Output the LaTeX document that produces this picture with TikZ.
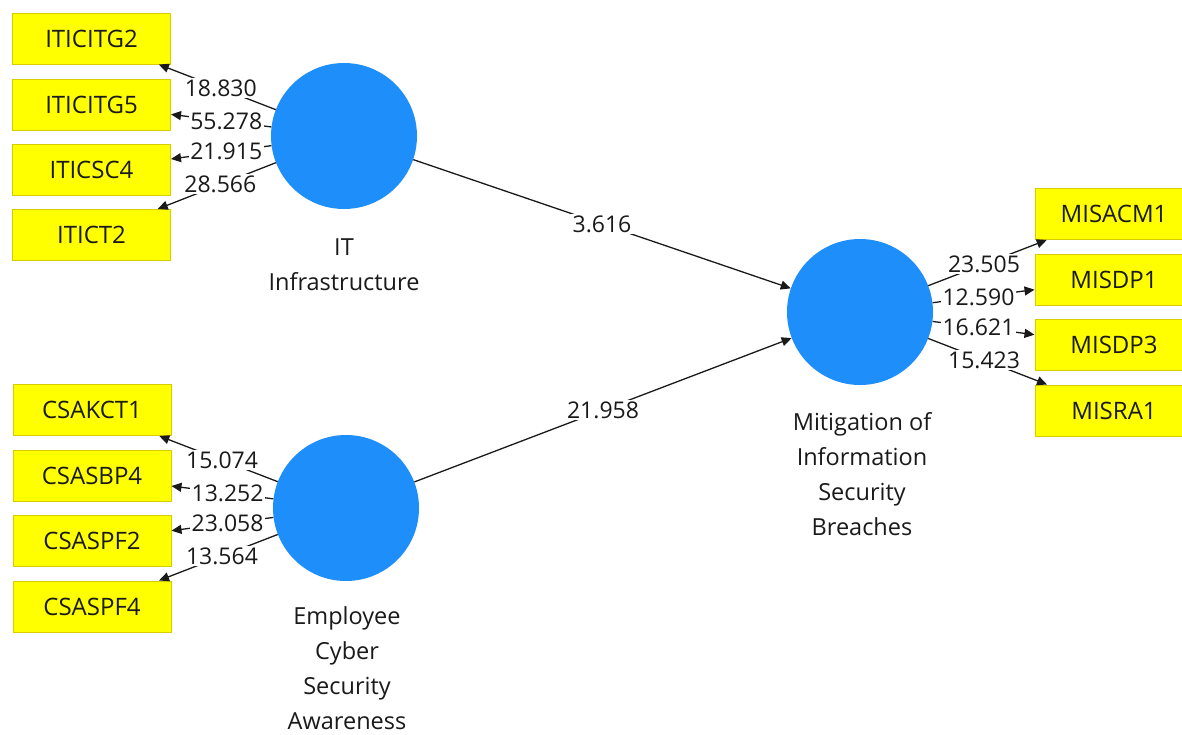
\documentclass[tikz,border=0pt]{standalone}
\usepackage{fontspec}
\setmainfont{Open Sans}
\usetikzlibrary{arrows.meta}
\definecolor{boxyellow}{HTML}{FFFF00}
\definecolor{boxedge}{HTML}{D6CC00}
\definecolor{lvblue}{HTML}{1E8FFA}
\definecolor{ink}{HTML}{1A1A1A}
\tikzset{
  ind/.style={draw=boxedge, line width=1pt, fill=boxyellow, minimum width=158pt, minimum height=51pt, inner sep=0pt, text=ink, font=\fontsize{24}{28}\selectfont},
  lv/.style={circle, fill=lvblue, draw=none, minimum size=146pt, inner sep=0pt},
  lvname/.style={align=center, text=ink, font=\fontsize{23.5}{35}\selectfont},
  conn/.style={draw=ink, line width=1.3pt, -{Triangle[length=10pt,width=9pt]}},
  lbl/.style={fill=white, inner sep=1.5pt, text=ink, font=\fontsize{23}{27}\selectfont}
}
\begin{document}
\begin{tikzpicture}[x=1pt,y=-1pt]
\useasboundingbox (0,0) rectangle (1182,734);
\clip (0,0) rectangle (1182,734);
\fill[white] (0,0) rectangle (1182,734);
% latent variables
\node[lv] (it) at (344,136) {};
\node[lv] (ec) at (346,508) {};
\node[lv] (mi) at (860,312) {};
\node[lvname] (itn) at (344,265) {IT\\Infrastructure};
\node[lvname] (ecn) at (347,668) {Employee\\Cyber\\Security\\Awareness};
\node[lvname] (min) at (862,474) {Mitigation of\\Information\\Security\\Breaches};
% indicators IT
\node[ind] (i1) at (91.5,38.5) {ITICITG2};
\node[ind] (i2) at (91.5,104.5) {ITICITG5};
\node[ind] (i3) at (91.5,169.5) {ITICSC4};
\node[ind] (i4) at (91.5,235) {ITICT2};
% indicators ECSA
\node[ind] (c1) at (92,410) {CSAKCT1};
\node[ind] (c2) at (92,476) {CSASBP4};
\node[ind] (c3) at (92,541) {CSASPF2};
\node[ind] (c4) at (92,606.5) {CSASPF4};
% indicators MISB
\node[ind] (m1) at (1114,214) {MISACM1};
\node[ind] (m2) at (1114,279.5) {MISDP1};
\node[ind] (m3) at (1114,345) {MISDP3};
\node[ind] (m4) at (1114,410.5) {MISRA1};
% outer loadings
\draw[conn] (it) -- node[lbl, pos=0.47] {18.830} (i1);
\draw[conn] (it) -- node[lbl, pos=0.45] {55.278} (i2);
\draw[conn] (it) -- node[lbl, pos=0.45] {21.915} (i3);
\draw[conn] (it) -- node[lbl, pos=0.47] {28.566} (i4);
\draw[conn] (ec) -- node[lbl, pos=0.47] {15.074} (c1);
\draw[conn] (ec) -- node[lbl, pos=0.45] {13.252} (c2);
\draw[conn] (ec) -- node[lbl, pos=0.45] {23.058} (c3);
\draw[conn] (ec) -- node[lbl, pos=0.47] {13.564} (c4);
\draw[conn] (mi) -- node[lbl, pos=0.47] {23.505} (m1);
\draw[conn] (mi) -- node[lbl, pos=0.45] {12.590} (m2);
\draw[conn] (mi) -- node[lbl, pos=0.45] {16.621} (m3);
\draw[conn] (mi) -- node[lbl, pos=0.47] {15.423} (m4);
% structural paths
\draw[conn] (it) -- node[lbl] {3.616} (mi);
\draw[conn] (ec) -- node[lbl] {21.958} (mi);
\end{tikzpicture}
\end{document}
